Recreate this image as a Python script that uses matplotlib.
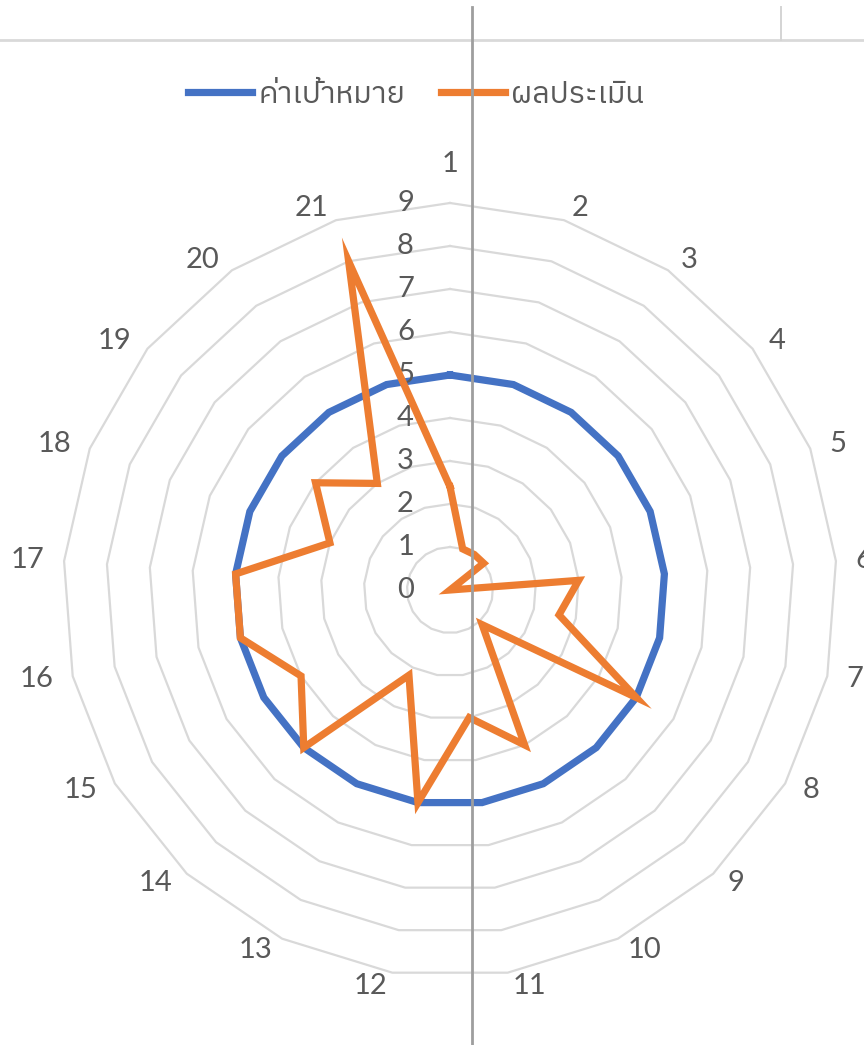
import numpy as np
import matplotlib
matplotlib.use("Agg")
import matplotlib.pyplot as plt
from matplotlib.lines import Line2D
from matplotlib import font_manager
from matplotlib.ft2font import FT2Font

# ---------------- data ----------------
categories = [str(i) for i in range(1, 22)]
target_values = [5] * 21
assessment_values = [2.4, 1, 1, 1, 0, 3, 2.6, 5, 1.1, 4, 3, 5, 2.2, 5, 4, 5, 5, 3, 4, 3, 8]
radial_ticks = list(range(0, 10))
series_names = ["ค่าเป้าหมาย", "ผลประเมิน"]

# ---------------- fonts ----------------
def find_thai_font():
    cands = sorted(font_manager.fontManager.ttflist,
                   key=lambda f: (0 if "thai" in f.name.lower() else 1, f.name))
    for f in cands:
        try:
            cm = FT2Font(f.fname).get_charmap()
            if 0x0E04 in cm and 0x0E40 in cm and 0x0E21 in cm:
                return f.name
        except Exception:
            pass
    return None

thai = find_thai_font()
base_font = "Lato"
plt.rcParams["font.family"] = [base_font, "DejaVu Sans"]
legend_family = ([thai] if thai else []) + [base_font, "DejaVu Sans"]

TXT = "#595959"
GRID = "#D9D9D9"
BLUE = "#4472C4"
ORANGE = "#ED7D31"

W, H = 864, 1045
fig = plt.figure(figsize=(W / 100, H / 100), dpi=100)
fig.patch.set_facecolor("white")

cx, cy, R = 450, 590, 387  # centre and outer radius in pixels
ax = fig.add_axes([(cx - R) / W, (H - cy - R) / H, 2 * R / W, 2 * R / H],
                  projection="polar")
ax.set_theta_zero_location("N")
ax.set_theta_direction(-1)
rmax = radial_ticks[-1]
ax.set_ylim(0, rmax)
ax.set_axis_off()

n = len(categories)
angles = np.arange(n) * 2 * np.pi / n
ang_c = np.append(angles, angles[0])

# polygon gridlines
for r in radial_ticks[1:]:
    ax.plot(ang_c, [r] * (n + 1), color=GRID, lw=1.6, zorder=1, clip_on=False)

# series
tv = np.append(target_values, target_values[0])
av = np.append(assessment_values, assessment_values[0])
ax.plot(ang_c, tv, color=BLUE, lw=5.2, zorder=3, solid_joinstyle="miter",
        label=series_names[0], clip_on=False)
ax.plot(ang_c, av, color=ORANGE, lw=5.2, zorder=4, solid_joinstyle="miter",
        label=series_names[1], clip_on=False)

FS = 21
# radial tick labels
for r in radial_ticks:
    ax.annotate(str(r), xy=(0, r), xytext=(-36, 0), textcoords="offset pixels",
                ha="right", va="center", color=TXT, fontsize=FS, annotation_clip=False)

# category labels
for k, (a, lab) in enumerate(zip(angles, categories)):
    s, c = np.sin(a), np.cos(a)
    if s > 0.01:
        ha, sg = "left", 1
    elif s < -0.01:
        ha, sg = "right", -1
    else:
        ha, sg = "center", 0
    dx = 17.5 * s + 2.5 * sg
    dy = 13 * c
    if sg == 0 and c > 0:
        dy += 26
    ax.annotate(lab, xy=(a, rmax), xytext=(dx, dy),
                textcoords="offset pixels", ha=ha, va="center",
                color=TXT, fontsize=FS, annotation_clip=False)

# legend
handles = [Line2D([], [], color=BLUE, lw=5.2), Line2D([], [], color=ORANGE, lw=5.2)]
fig.legend(handles, series_names, loc="center",
           bbox_to_anchor=(416 / W, 1 - 94 / H), ncol=2, frameon=False,
           prop={"family": legend_family, "size": 22},
           handlelength=2.1, handletextpad=0.22, columnspacing=1.15,
           borderpad=0, labelcolor=TXT)

# worksheet cell borders overlaying the picture
fig.add_artist(Line2D([0, 1], [1 - 40 / H] * 2, transform=fig.transFigure,
                      color="#D9D9D9", lw=2.0, zorder=0))
fig.add_artist(Line2D([781 / W] * 2, [1 - 40 / H, 1 - 7 / H], transform=fig.transFigure,
                      color="#D4D4D4", lw=1.4, zorder=0))
fig.add_artist(Line2D([472 / W] * 2, [0, 1 - 7 / H], transform=fig.transFigure,
                      color="#9E9E9E", lw=2.0, zorder=10))

fig.savefig("out.png", dpi=100, facecolor="white")
